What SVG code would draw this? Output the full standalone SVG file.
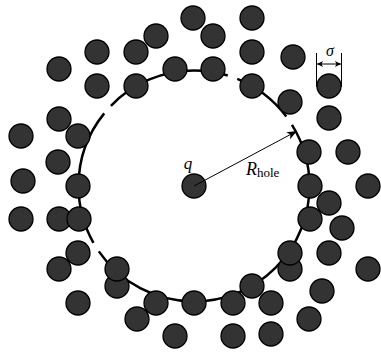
<svg xmlns="http://www.w3.org/2000/svg" width="381" height="352" viewBox="0 0 381 352">
<style>
.p{fill:#333333;stroke:#000;stroke-width:1.3}
.ring{fill:none;stroke:#000;stroke-width:2.5}
.thin{fill:none;stroke:#000;stroke-width:1}
.lbl{font-family:"Liberation Serif","DejaVu Serif",serif;font-style:italic;fill:#000}
.sub{font-family:"Liberation Serif","DejaVu Serif",serif;font-style:normal;fill:#000}
</style>
<defs>
<marker id="ah" markerUnits="userSpaceOnUse" markerWidth="12" markerHeight="10" refX="10" refY="4" orient="auto">
<path d="M0,0 L10,4 L0,8 L2.5,4 Z" fill="#000"/>
</marker>
<marker id="sh" markerUnits="userSpaceOnUse" markerWidth="8" markerHeight="6" refX="6" refY="3" orient="auto-start-reverse">
<path d="M0,0 L6,3 L0,6 L1.5,3 Z" fill="#000"/>
</marker>
</defs>
<g id="connectors">
<circle class="ring" cx="194" cy="186" r="115.5" pathLength="360" stroke-dasharray="145.5 5 68.5 5 63 5 31 5 32"/>
</g>
<g id="p1"><circle class="p" cx="193" cy="18" r="12"/></g>
<g id="p2"><circle class="p" cx="252" cy="18" r="12"/></g>
<g id="p3"><circle class="p" cx="213" cy="36" r="12"/></g>
<g id="p4"><circle class="p" cx="136" cy="52" r="12"/></g>
<g id="p5"><circle class="p" cx="156" cy="36" r="12"/></g>
<g id="p6"><circle class="p" cx="97" cy="52" r="12"/></g>
<g id="p7"><circle class="p" cx="252" cy="52" r="12"/></g>
<g id="p8"><circle class="p" cx="293" cy="57" r="12"/></g>
<g id="p9"><circle class="p" cx="59" cy="69" r="12"/></g>
<g id="p10"><circle class="p" cx="175" cy="69" r="12"/></g>
<g id="p11"><circle class="p" cx="213" cy="69" r="12"/></g>
<g id="p12"><circle class="p" cx="97" cy="86" r="12"/></g>
<g id="p13"><circle class="p" cx="136" cy="86" r="12"/></g>
<g id="p14"><circle class="p" cx="252" cy="86" r="12"/></g>
<g id="p15"><circle class="p" cx="329" cy="86" r="12"/></g>
<g id="p16"><circle class="p" cx="290" cy="102" r="12"/></g>
<g id="p17"><circle class="p" cx="59" cy="119" r="12"/></g>
<g id="p18"><circle class="p" cx="78" cy="136" r="12"/></g>
<g id="p19"><circle class="p" cx="21" cy="136" r="12"/></g>
<g id="p20"><circle class="p" cx="329" cy="118" r="12"/></g>
<g id="p21"><circle class="p" cx="309" cy="152" r="12"/></g>
<g id="p22"><circle class="p" cx="348" cy="152" r="12"/></g>
<g id="p23"><circle class="p" cx="58" cy="162" r="12"/></g>
<g id="p24"><circle class="p" cx="23" cy="181" r="12"/></g>
<g id="p25"><circle class="p" cx="78" cy="186" r="12"/></g>
<g id="q"><circle class="p" cx="194" cy="186" r="12"/></g>
<g id="p27"><circle class="p" cx="310" cy="186" r="12"/></g>
<g id="p28"><circle class="p" cx="368" cy="186" r="12"/></g>
<g id="p29"><circle class="p" cx="329" cy="203" r="12"/></g>
<g id="p30"><circle class="p" cx="310" cy="219" r="12"/></g>
<g id="p31"><circle class="p" cx="342" cy="228" r="12"/></g>
<g id="p32"><circle class="p" cx="21" cy="219" r="12"/></g>
<g id="p33"><circle class="p" cx="59" cy="219" r="12"/></g>
<g id="p34"><circle class="p" cx="79" cy="219" r="12"/></g>
<g id="p35"><circle class="p" cx="78" cy="253" r="12"/></g>
<g id="p36"><circle class="p" cx="59" cy="269" r="12"/></g>
<g id="p37"><circle class="p" cx="117" cy="286" r="12"/></g>
<g id="p38"><circle class="p" cx="117" cy="269" r="12"/></g>
<g id="p39"><circle class="p" cx="290" cy="269" r="12"/></g>
<g id="p40"><circle class="p" cx="290" cy="253" r="12"/></g>
<g id="p41"><circle class="p" cx="329" cy="253" r="12"/></g>
<g id="p42"><circle class="p" cx="368" cy="269" r="12"/></g>
<g id="p43"><circle class="p" cx="252" cy="286" r="12"/></g>
<g id="p44"><circle class="p" cx="322" cy="291" r="12"/></g>
<g id="p45"><circle class="p" cx="78" cy="303" r="12"/></g>
<g id="p46"><circle class="p" cx="156" cy="303" r="12"/></g>
<g id="p47"><circle class="p" cx="194" cy="303" r="12"/></g>
<g id="p48"><circle class="p" cx="233" cy="303" r="12"/></g>
<g id="p49"><circle class="p" cx="271" cy="303" r="12"/></g>
<g id="p50"><circle class="p" cx="137" cy="319" r="12"/></g>
<g id="p51"><circle class="p" cx="309" cy="319" r="12"/></g>
<g id="p52"><circle class="p" cx="175" cy="336" r="12"/></g>
<g id="p53"><circle class="p" cx="233" cy="336" r="12"/></g>
<g id="p54"><circle class="p" cx="271" cy="334" r="12"/></g>
<g id="annotations">
<line class="thin" x1="194" y1="186" x2="297" y2="131" marker-end="url(#ah)"/>
<line class="thin" x1="316.5" y1="53" x2="316.5" y2="87"/>
<line class="thin" x1="341.5" y1="53" x2="341.5" y2="87"/>
<line class="thin" x1="317" y1="64" x2="341" y2="64" marker-start="url(#sh)" marker-end="url(#sh)"/>
<text class="lbl" x="188" y="169" font-size="17" text-anchor="middle">q</text>
<text class="lbl" x="246" y="175" font-size="18">R<tspan class="sub" font-size="13" dy="2">hole</tspan></text>
<text class="lbl" x="330" y="56" font-size="16" text-anchor="middle">σ</text>
</g>
</svg>
